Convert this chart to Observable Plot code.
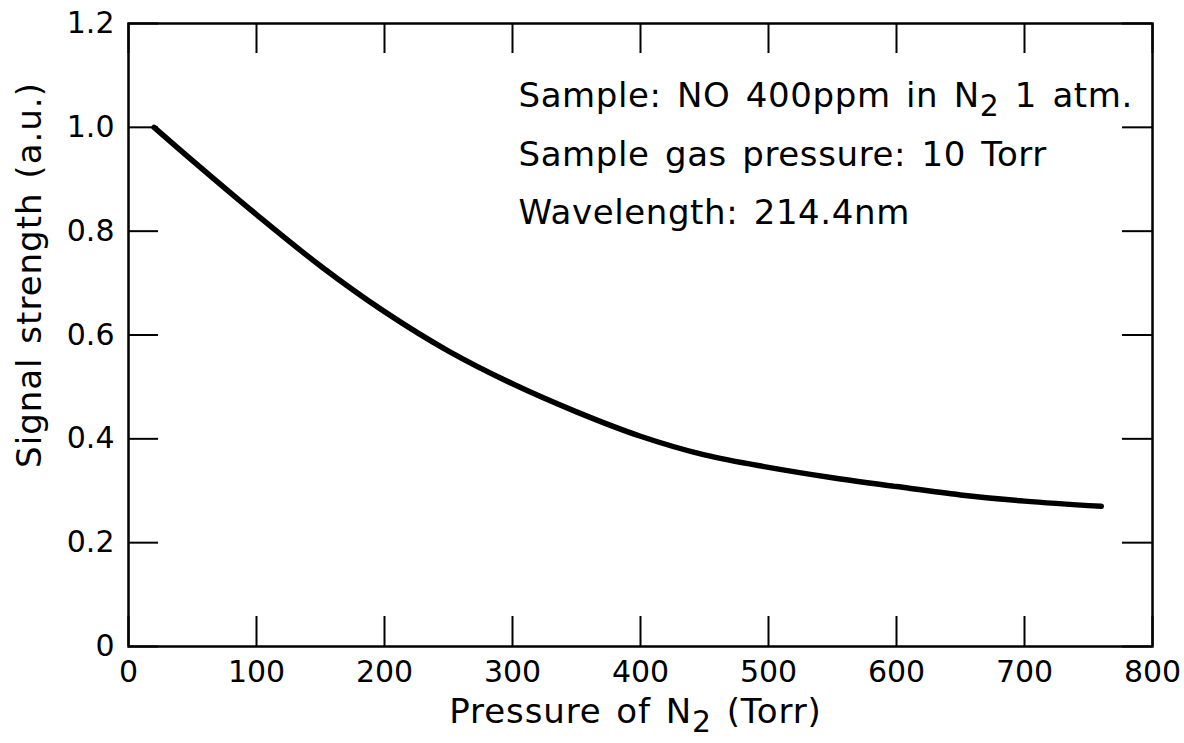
<!DOCTYPE html>
<html><head><meta charset="utf-8">
<script src="https://cdn.jsdelivr.net/npm/d3@7"></script>
<script src="https://cdn.jsdelivr.net/npm/@observablehq/plot@0.6"></script>
<style>body{margin:0;background:#fff} svg{font-family:"DejaVu Sans",sans-serif}</style>
</head><body><div id="chart"></div>
<script>
const pressure = [20, 50, 100, 150, 200, 250, 300, 350, 400, 450, 500, 550, 600, 650, 700, 760];
const signal = [1.0, 0.936, 0.832, 0.733, 0.645, 0.569, 0.506, 0.452, 0.405, 0.369, 0.345, 0.325, 0.308, 0.292, 0.280, 0.270];
const xTicks = [0, 100, 200, 300, 400, 500, 600, 700, 800];
const yTicks = [0, 0.2, 0.4, 0.6, 0.8, 1.0, 1.2];
const xLabel = "Pressure of N₂ (Torr)";
const yLabel = "Signal strength (a.u.)";
const notes = ["Sample: NO 400ppm in N₂ 1 atm.", "Sample gas pressure: 10 Torr", "Wavelength: 214.4nm"];

const W = 1184, H = 743, mL = 128, mR = 32, mT = 23, mB = 97;
const plotW = W - mL - mR, plotH = H - mT - mB;
const tickLen = 30;
const data = pressure.map((p, i) => ({p, s: signal[i]}));

const chart = Plot.plot({
  width: W, height: H,
  marginLeft: mL, marginRight: mR, marginTop: mT, marginBottom: mB,
  style: {fontFamily: "DejaVu Sans, sans-serif", background: "white", color: "black"},
  x: {domain: [0, 800]},
  y: {domain: [0, 1.2]},
  marks: [
    Plot.ruleX(xTicks, {x: d => d, insetTop: plotH - tickLen, stroke: "black", strokeWidth: 2}),
    Plot.ruleX(xTicks, {x: d => d, insetBottom: plotH - tickLen, stroke: "black", strokeWidth: 2}),
    Plot.ruleY(yTicks, {y: d => d, insetRight: plotW - tickLen, stroke: "black", strokeWidth: 2}),
    Plot.ruleY(yTicks, {y: d => d, insetLeft: plotW - tickLen, stroke: "black", strokeWidth: 2}),
    Plot.frame({stroke: "black", strokeWidth: 2.5}),
    Plot.axisX(xTicks, {tickSize: 0, tickPadding: 14, fontSize: 30, label: null}),
    Plot.axisY(yTicks, {tickSize: 0, tickPadding: 14, fontSize: 30, label: null, tickFormat: d => d === 0 ? "0" : d.toFixed(1)}),
    Plot.line(data, {x: "p", y: "s", curve: "catmull-rom", stroke: "black", strokeWidth: 5.5, strokeLinecap: "round"}),
    Plot.text([xLabel], {text: d => d, frameAnchor: "bottom", lineAnchor: "top", dx: -5, dy: 52, fontSize: 34, className: "xtitle"}),
    Plot.text([yLabel], {text: d => d, frameAnchor: "left", textAnchor: "middle", rotate: -90, dx: -98, dy: -60, fontSize: 34, className: "ytitle"}),
    Plot.text([notes.join("\n")], {text: d => d, frameAnchor: "top-left", textAnchor: "start", lineAnchor: "top", dx: 390, dy: 42, fontSize: 34, lineHeight: 1.72, className: "notes"})
  ]
});

// spacing tweaks to approximate the original lettering width
for (const [cls, ls, ws] of [["xtitle", 0.9, 3], ["ytitle", 1, 2], ["notes", 0.6, 4]]) {
  chart.querySelectorAll("." + cls).forEach(g => {
    g.setAttribute("letter-spacing", ls);
    g.setAttribute("word-spacing", ws);
  });
}

// render subscript "₂" as a lowered, slightly smaller "2"
const ns = "http://www.w3.org/2000/svg";
const walker = document.createTreeWalker(chart, NodeFilter.SHOW_TEXT);
const nodes = [];
while (walker.nextNode()) if (walker.currentNode.nodeValue.includes("₂")) nodes.push(walker.currentNode);
for (const n of nodes) {
  const parts = n.nodeValue.split("₂");
  const frag = document.createDocumentFragment();
  parts.forEach((part, i) => {
    if (i === 0) { frag.appendChild(document.createTextNode(part)); return; }
    const sub = document.createElementNS(ns, "tspan");
    sub.setAttribute("dy", "9");
    sub.setAttribute("font-size", "0.88em");
    sub.textContent = "2";
    frag.appendChild(sub);
    const rest = document.createElementNS(ns, "tspan");
    rest.setAttribute("dy", "-9");
    rest.textContent = part;
    frag.appendChild(rest);
  });
  n.parentNode.replaceChild(frag, n);
}
document.getElementById("chart").appendChild(chart);
</script>
</body></html>
